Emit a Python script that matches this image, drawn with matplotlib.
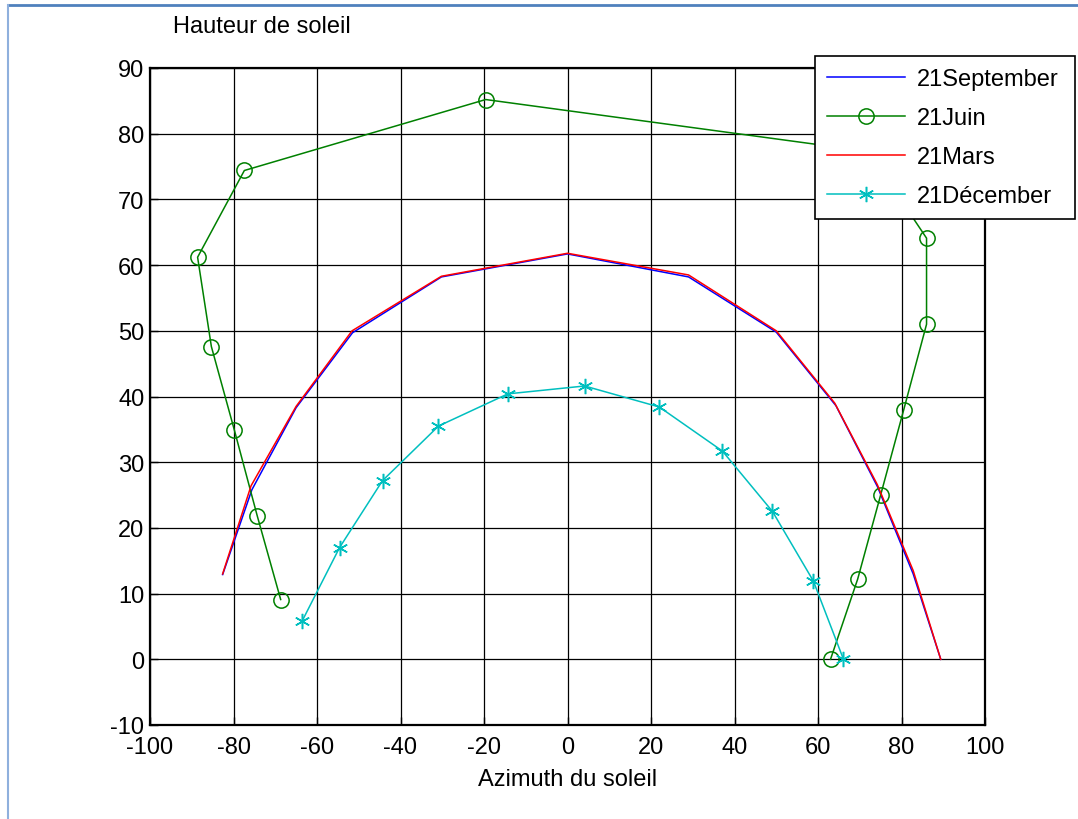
import matplotlib
matplotlib.use("Agg")
import matplotlib.pyplot as plt
from matplotlib.lines import Line2D

plt.rcParams['font.family'] = ['Liberation Sans', 'DejaVu Sans']
plt.rcParams['axes.unicode_minus'] = False

# Data
sept_x = [-82.6, -75.6, -65.0, -51.5, -30.2, 0.0, 29.0, 50.0, 64.3, 74.3, 82.8, 89.4]
sept_y = [12.9, 25.8, 38.3, 49.7, 58.2, 61.7, 58.2, 49.8, 38.6, 26.2, 13.0, 0.0]
mars_x = [-82.6, -75.8, -65.0, -51.6, -30.2, 0.0, 29.0, 50.0, 64.0, 74.2, 82.8, 89.4]
mars_y = [13.0, 26.4, 38.5, 50.0, 58.3, 61.8, 58.5, 50.0, 39.0, 26.6, 13.5, 0.0]
juin_x = [-68.7, -74.3, -79.8, -85.3, -88.6, -77.4, -19.6, 72.1, 86.0, 86.0, 80.5, 75.0, 69.5, 63.0]
juin_y = [9.1, 21.8, 34.9, 47.6, 61.2, 74.4, 85.2, 77.3, 64.1, 51.0, 37.9, 25.0, 12.2, 0.0]
dec_x = [-63.5, -54.6, -44.3, -30.9, -14.3, 4.1, 22.0, 37.1, 49.1, 58.9, 66.1]
dec_y = [5.9, 17.0, 27.2, 35.5, 40.4, 41.6, 38.4, 31.7, 22.5, 11.9, 0.0]

xticks = list(range(-100, 101, 20))
yticks = list(range(-10, 91, 10))

W, H = 1078, 820
FS = 17
fig = plt.figure(figsize=(W / 100, H / 100), dpi=100)
fig.patch.set_facecolor('white')

ax = fig.add_axes([150 / W, 1 - 726 / H, (985 - 150) / W, (726 - 69) / H])
ax.set_xlim(-100, 100)
ax.set_ylim(-10, 90)
ax.set_xticks(xticks)
ax.set_yticks(yticks)
ax.grid(True, color='black', linewidth=0.9, linestyle='-')
ax.set_axisbelow(True)
for s in ax.spines.values():
    s.set_linewidth(1.6)
ax.tick_params(direction='in', length=6, labelsize=FS, width=1, pad=4)
ax.tick_params(axis='x', pad=8)

l1, = ax.plot(sept_x, sept_y, color='#0000ff', linewidth=1.1, label='21September')
l2, = ax.plot(juin_x, juin_y, color='#008000', linewidth=1.1, marker='o', markersize=11,
              markerfacecolor='none', markeredgewidth=1.1, label='21Juin')
l3, = ax.plot(mars_x, mars_y, color='#ff0000', linewidth=1.1, label='21Mars')
l4, = ax.plot(dec_x, dec_y, color='#00bfbf', linewidth=1.1, marker=(6, 2, 0), markersize=11,
              markeredgewidth=1.1, label='21Décember')

ax.set_xlabel('Azimuth du soleil', fontsize=FS, labelpad=7)

leg = fig.legend(handles=[l1, l2, l3, l4], loc='upper left',
                 bbox_to_anchor=(815 / W, 1 - 210 / H, (1075 - 815) / W, (210 - 57) / H),
                 mode='expand', fontsize=FS, frameon=True, fancybox=False, framealpha=1,
                 edgecolor='black', handlelength=3.3, borderaxespad=0, labelspacing=0.72,
                 borderpad=0.5, handletextpad=0.5, markerscale=1.0)
leg.get_frame().set_linewidth(1.2)

fig.text(262 / W, 1 - 27 / H, 'Hauteur de soleil', fontsize=FS, ha='center', va='center')

# figure border lines (top and left)
fig.add_artist(Line2D([8 / W, 1], [1 - 6 / H, 1 - 6 / H], transform=fig.transFigure,
                      color='#4f81bd', linewidth=2))
fig.add_artist(Line2D([8 / W, 8 / W], [0, 1 - 6 / H], transform=fig.transFigure,
                      color='#8fb0dd', linewidth=1.5))

fig.savefig('out.png', dpi=100)
